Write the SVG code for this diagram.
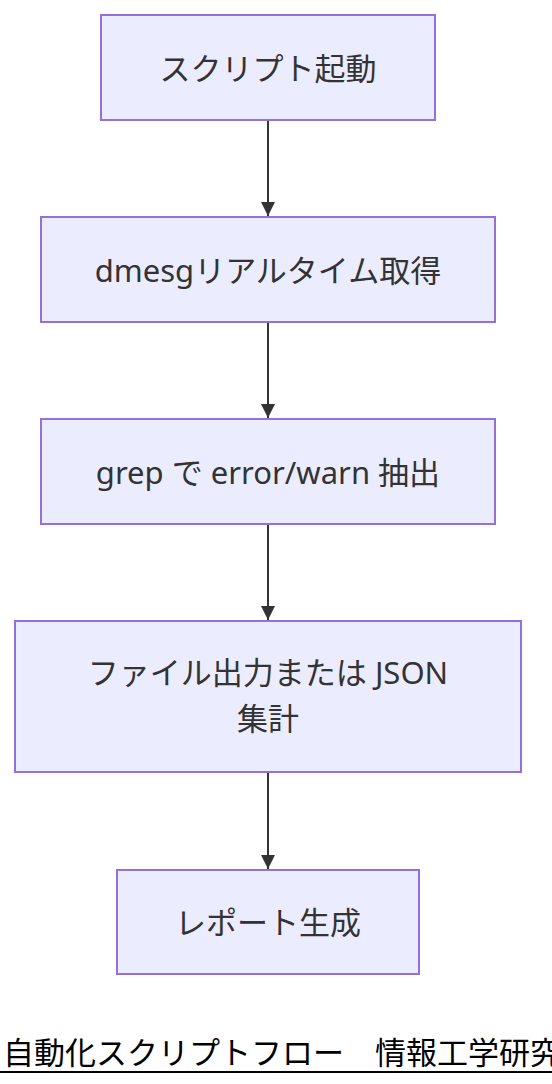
<svg xmlns="http://www.w3.org/2000/svg" width="552" height="1084" viewBox="0 0 552 1084">
<style>
.node rect{fill:#ececff;stroke:#9370db;stroke-width:2}
.node text{font-family:"Noto Sans","Noto Sans CJK JP",sans-serif;font-size:31px;fill:#333;text-anchor:middle;dominant-baseline:central}
.edge{stroke:#333;stroke-width:2;fill:none}
.title{font-family:"Noto Sans CJK JP",sans-serif;font-size:31px;fill:#000}
</style>
<defs>
<marker id="arrow" viewBox="0 0 10 10" refX="10" refY="5" markerUnits="userSpaceOnUse" markerWidth="14" markerHeight="14" orient="auto">
<path d="M0,0 L10,5 L0,10 z" fill="#333"/>
</marker>
</defs>
<g id="connectors">
<line class="edge" x1="268" y1="120" x2="268" y2="216" marker-end="url(#arrow)"/>
<line class="edge" x1="268" y1="322" x2="268" y2="418" marker-end="url(#arrow)"/>
<line class="edge" x1="268" y1="524" x2="268" y2="620" marker-end="url(#arrow)"/>
<line class="edge" x1="268" y1="772" x2="268" y2="869" marker-end="url(#arrow)"/>
</g>
<g id="n1" class="node"><rect x="101" y="15" width="334" height="105"/><text x="268" y="67.5">スクリプト起動</text></g>
<g id="n2" class="node"><rect x="41" y="217" width="454" height="105"/><text x="268" y="269.5">dmesgリアルタイム取得</text></g>
<g id="n3" class="node"><rect x="41" y="419" width="454" height="105"/><text x="268" y="471.5">grep で error/warn 抽出</text></g>
<g id="n4" class="node"><rect x="15" y="621" width="506" height="151"/><text x="268" y="672">ファイル出力または JSON</text><text x="268" y="718">集計</text></g>
<g id="n5" class="node"><rect x="117" y="870" width="302" height="104"/><text x="268" y="922">レポート生成</text></g>
<g id="title">
<text class="title" x="3" y="1064">自動化スクリプトフロー　情報工学研究</text>
<line x1="0" y1="1072" x2="552" y2="1072" stroke="#000" stroke-width="2"/>
</g>
</svg>
